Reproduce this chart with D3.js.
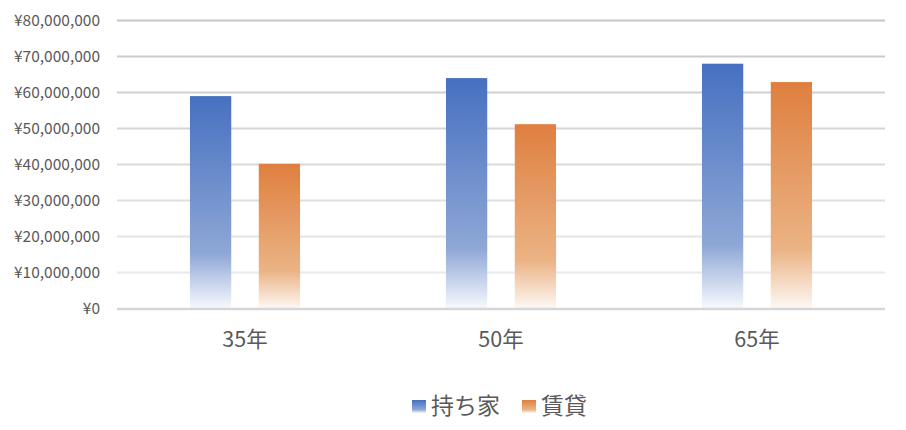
<!DOCTYPE html>
<html>
<head>
<meta charset="utf-8">
<script src="https://cdn.jsdelivr.net/npm/d3@7"></script>
<style>
  body { margin: 0; background: #fff; }
  text { font-family: "Noto Sans CJK JP", "Noto Sans", sans-serif; fill: #595959; }
</style>
</head>
<body>
<div id="chart"></div>
<script>
var categories = ['35年', '50年', '65年']
var seriesNames = ['持ち家', '賃貸']
var ownValues = [59000000, 64000000, 68000000]
var rentValues = [40200000, 51200000, 62900000]
var yTicks = [0, 10000000, 20000000, 30000000, 40000000, 50000000, 60000000, 70000000, 80000000]

var width = 906, height = 430
var plotLeft = 117, plotRight = 885, plotTop = 20.5, plotBottom = 308.5

var svg = d3.select('#chart').append('svg')
    .attr('width', width)
    .attr('height', height)

// gradients, one per series
var colors = [
    { top: '#4670c0', mid: '#8ea7d6', end: '#f7f9fd' },
    { top: '#df7f3f', mid: '#ebb385', end: '#fdf8f4' }
]
var defs = svg.append('defs')
colors.forEach(function(c, i) {
    var g = defs.append('linearGradient')
        .attr('id', 'grad' + i)
        .attr('x1', 0).attr('y1', 0).attr('x2', 0).attr('y2', 1)
    g.append('stop').attr('offset', '0').attr('stop-color', c.top)
    g.append('stop').attr('offset', '0.74').attr('stop-color', c.mid)
    g.append('stop').attr('offset', '1').attr('stop-color', c.end)
})

var y = d3.scaleLinear().domain([0, 80000000]).range([plotBottom, plotTop])

var x0 = d3.scaleBand().domain(categories).range([plotLeft, plotRight])
    .paddingInner(0.57).paddingOuter(0.285)
var x1 = d3.scaleBand().domain(seriesNames).range([0, x0.bandwidth()])
    .paddingInner(0.4)

// gridlines, darker near the top
var gridColor = d3.scaleLinear().domain([0, 80000000]).range(['#eeeeee', '#c6c6c6'])
svg.append('g').selectAll('line')
    .data(yTicks.slice(1))
    .join('line')
    .attr('x1', plotLeft).attr('x2', plotRight)
    .attr('y1', function(d) { return y(d) }).attr('y2', function(d) { return y(d) })
    .attr('stroke', function(d) { return gridColor(d) })
    .attr('stroke-width', 2)

// y labels
var fmt = function(d) { return '¥' + d3.format(',')(d) }
var yAxis = svg.append('g')
    .attr('transform', 'translate(100,0)')
    .call(d3.axisLeft(y).tickValues(yTicks).tickFormat(fmt).tickSize(0).tickPadding(0))
yAxis.select('.domain').remove()
yAxis.selectAll('text')
    .style('font-size', '15.5px')
    .style('fill', '#595959')

// bars
var rows = categories.map(function(c, i) {
    return { cat: c, vals: [ownValues[i], rentValues[i]] }
})
var groups = svg.append('g').selectAll('g')
    .data(rows)
    .join('g')
    .attr('transform', function(d) { return 'translate(' + x0(d.cat) + ',0)' })
groups.selectAll('rect')
    .data(function(d) { return d.vals.map(function(v, i) { return { s: seriesNames[i], v: v, i: i } }) })
    .join('rect')
    .attr('x', function(d) { return x1(d.s) })
    .attr('width', x1.bandwidth())
    .attr('y', function(d) { return y(d.v) })
    .attr('height', function(d) { return y(0) - y(d.v) })
    .attr('fill', function(d) { return 'url(#grad' + d.i + ')' })

// baseline
svg.append('line')
    .attr('x1', plotLeft).attr('x2', plotRight)
    .attr('y1', y(0) + 0.5).attr('y2', y(0) + 0.5)
    .attr('stroke', '#d6d6d6')
    .attr('stroke-width', 2.5)

// category labels
var xAxis = svg.append('g')
    .attr('transform', 'translate(0,' + plotBottom + ')')
    .call(d3.axisBottom(x0).tickSize(0).tickPadding(23))
xAxis.select('.domain').remove()
xAxis.selectAll('text')
    .style('font-size', '21.5px')
    .style('fill', '#595959')

// legend
var legend = svg.append('g')
var legendX = [412, 522]
seriesNames.forEach(function(s, i) {
    legend.append('rect')
        .attr('x', legendX[i]).attr('y', 400)
        .attr('width', 14).attr('height', 13)
        .attr('fill', 'url(#grad' + i + ')')
    legend.append('text')
        .attr('x', legendX[i] + 19).attr('y', 414)
        .style('font-size', '23px')
        .text(s)
})
</script>
</body>
</html>
